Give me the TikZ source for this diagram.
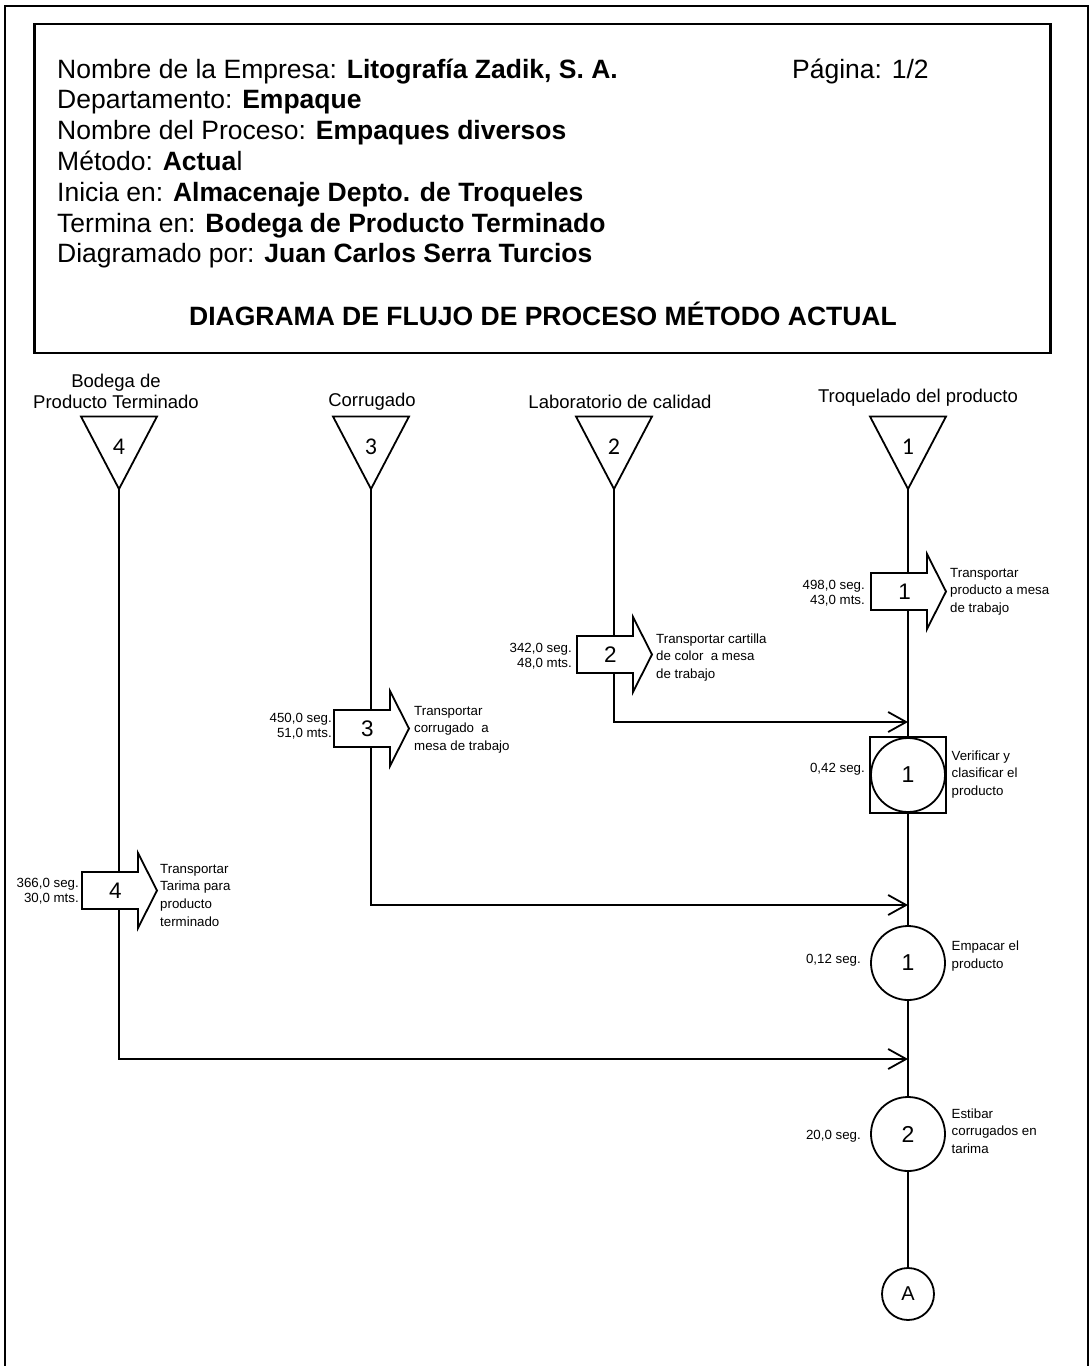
\documentclass[tikz,border=0pt]{standalone}
\usepackage{fontspec}
\setmainfont{Liberation Sans}
\newfontfamily\calib{Carlito}
\usetikzlibrary{arrows.meta}
\newcommand\lnR[2]{\vtop{\baselineskip=#1pt\halign{\hfil##\cr#2\crcr}}}
\newcommand\lnL[2]{\vtop{\baselineskip=#1pt\halign{##\hfil\cr#2\crcr}}}
\tikzset{
  flow/.style={line width=1.8pt},
  into/.style={line width=1.8pt, -{Straight Barb[length=18pt,width=20pt]}},
  frame/.style={line width=2.2pt},
  small/.style={font=\fontsize{13.3}{15}\selectfont, inner sep=0pt},
  ttl/.style={font=\fontsize{18.5}{21}\selectfont, inner sep=0pt, anchor=base},
  hdr/.style={font=\fontsize{26.5}{30}\selectfont, inner sep=0pt, anchor=base west},
  op/.style={circle, draw, line width=1.8pt, minimum size=74pt, inner sep=0pt, font=\fontsize{23}{23}\selectfont},
  transp/.pic={
    \draw[line width=1.8pt, line join=miter] (-37,-18.5) -- (19,-18.5) -- (19,-37.5) -- (38,0) -- (19,37.5) -- (19,18.5) -- (-37,18.5) -- cycle;
    \node[font=\fontsize{22.5}{22.5}\selectfont, inner sep=0pt] (-c) at (-3.5,0) {#1};
    \coordinate (-n) at (0,-18.5);
    \coordinate (-s) at (0,18.5);
  },
  store/.pic={
    \draw[line width=1.8pt, line join=miter] (-38,0) -- (38,0) -- (0,72.5) -- cycle;
    \node[font=\calib\fontsize{24}{24}\selectfont, inner sep=0pt] (-c) at (0,30) {#1};
    \coordinate (-apex) at (0,72.5);
  }
}
\begin{document}
\begin{tikzpicture}[x=1pt, y=-1pt]
\useasboundingbox (0,0) rectangle (1091,1366);
% frames
\draw[frame] (5,1400) -- (5,6) -- (1088,6) -- (1088,1400);
\draw[frame] (34.5,24) rectangle (1050.5,353);
% header
\node[hdr] (h1) at (57,78) {Nombre de la Empresa: \textbf{Litografía Zadik, S. A.}};
\node[hdr] (pg) at (792,78) {Página: 1/2};
\node[hdr] (h2) at (57,108.8) {Departamento: \textbf{Empaque}};
\node[hdr] (h3) at (57,139.6) {Nombre del Proceso: \textbf{Empaques diversos}};
\node[hdr] (h4) at (57,170.4) {Método: \textbf{Actua}l};
\node[hdr] (h5) at (57,201.2) {Inicia en: \textbf{Almacenaje Depto. de Troqueles}};
\node[hdr] (h6) at (57,232) {Termina en: \textbf{Bodega de Producto Terminado}};
\node[hdr] (h7) at (57,262.8) {Diagramado por: \textbf{Juan Carlos Serra Turcios}};
\node[hdr, anchor=base, font=\fontsize{26.5}{30}\selectfont\bfseries] (title) at (543,325) {DIAGRAMA DE FLUJO DE PROCESO MÉTODO ACTUAL};
% column titles
\node[ttl] (c4a) at (116,387) {Bodega de};
\node[ttl] (c4b) at (116,408) {Producto Terminado};
\node[ttl] (c3) at (372,406) {Corrugado};
\node[ttl] (c2) at (620,408) {Laboratorio de calidad};
\node[ttl] (c1) at (918,402.5) {Troquelado del producto};
% storage triangles
\pic (s4) at (119,416.5) {store=4};
\pic (s3) at (371,416.5) {store=3};
\pic (s2) at (614,416.5) {store=2};
\pic (s1) at (908,416.5) {store=1};
% transports
\pic (a1) at (908,591.5) {transp=1};
\pic (a2) at (614,654.5) {transp=2};
\pic (a3) at (371,728.5) {transp=3};
\pic (a4) at (119,890.5) {transp=4};
% inspection / operations
\node[draw, line width=1.8pt, minimum size=75.5pt, inner sep=0pt] (inspsq) at (908,775) {};
\node[op] (insp) at (908,775) {1};
\node[op] (op1) at (908,963) {1};
\node[op] (op2) at (908,1134) {2};
\node[circle, draw, line width=1.8pt, minimum size=52pt, inner sep=0pt, font=\fontsize{20}{20}\selectfont] (conA) at (908,1294) {A};
% junctions
\coordinate (j2) at (908,722);
\coordinate (j3) at (908,905);
\coordinate (j4) at (908,1059);
% flow lines
\draw[flow] (s1-apex) -- (a1-n);
\draw[flow] (a1-s) -- (inspsq.north);
\draw[flow] (inspsq.south) -- (op1.north);
\draw[flow] (op1.south) -- (op2.north);
\draw[flow] (op2.south) -- (conA.north);
\draw[flow] (s2-apex) -- (a2-n);
\draw[into] (a2-s) |- (j2);
\draw[flow] (s3-apex) -- (a3-n);
\draw[into] (a3-s) |- (j3);
\draw[flow] (s4-apex) -- (a4-n);
\draw[into] (a4-s) |- (j4);
% times
\node[small, anchor=base east] (t1) at (865,589) {\lnR{15}{498,0 seg.\cr 43,0 mts.}};
\node[small, anchor=base east] (t2) at (572,652) {\lnR{15}{342,0 seg.\cr 48,0 mts.}};
\node[small, anchor=base east] (t3) at (332,722) {\lnR{15}{450,0 seg.\cr 51,0 mts.}};
\node[small, anchor=base east] (t4) at (79,887) {\lnR{15}{366,0 seg.\cr 30,0 mts.}};
\node[small, anchor=base east] (ti) at (865,772) {0,42 seg.};
\node[small, anchor=base east] (to1) at (861,963) {0,12 seg.};
\node[small, anchor=base east] (to2) at (861,1139) {20,0 seg.};
% descriptions
\node[small, anchor=base west] (d1) at (950,577) {\lnL{17.7}{Transportar\cr producto a mesa\cr de trabajo}};
\node[small, anchor=base west] (d2) at (656,643) {\lnL{17.7}{Transportar cartilla\cr de color~ a mesa\cr de trabajo}};
\node[small, anchor=base west] (d3) at (414,715) {\lnL{17.7}{Transportar\cr corrugado~ a\cr mesa de trabajo}};
\node[small, anchor=base west] (d4) at (160,873) {\lnL{17.9}{Transportar\cr Tarima para\cr producto\cr terminado}};
\node[small, anchor=base west] (di) at (951.5,760) {\lnL{17.5}{Verificar y\cr clasificar el\cr producto}};
\node[small, anchor=base west] (do1) at (951.5,950) {\lnL{18}{Empacar el\cr producto}};
\node[small, anchor=base west] (do2) at (951.5,1118) {\lnL{17.5}{Estibar\cr corrugados en\cr tarima}};
\end{tikzpicture}
\end{document}
